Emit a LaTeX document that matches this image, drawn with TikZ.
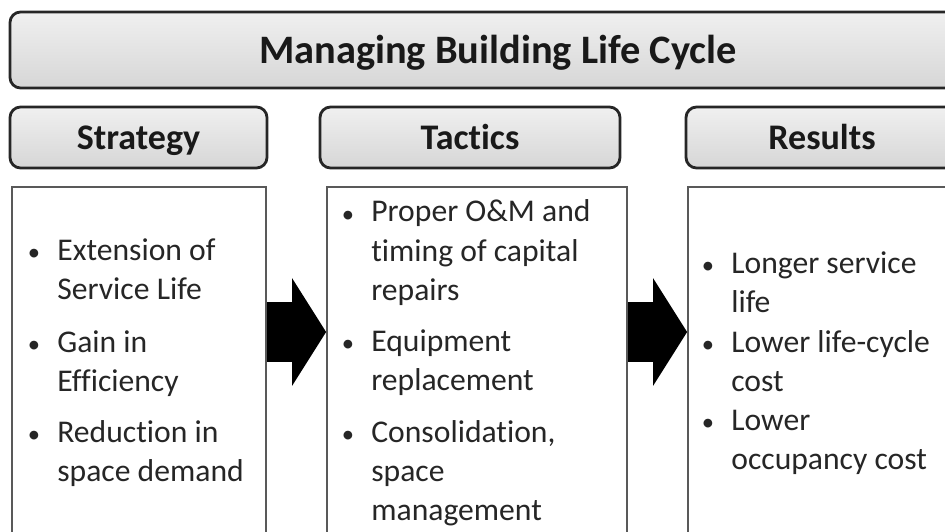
\documentclass[tikz,border=0pt]{standalone}
\usepackage{fontspec}
\setmainfont[Ligatures=NoCommon]{Carlito}
\usetikzlibrary{fit,arrows.meta}

\begin{document}
\begin{tikzpicture}[x=0.02cm, y=-0.02cm,
    banner/.style={draw=black!85, line width=1.6pt, rounded corners=6pt,
        top color=gray!12, bottom color=gray!32, inner sep=0pt},
    head/.style={text=black!90, inner sep=0pt, text height=13.2pt, text depth=0pt,
        font=\bfseries\fontsize{20.5}{25}\selectfont},
    panel/.style={draw=black!65, line width=1pt, fill=white, inner sep=0pt},
    item/.style={anchor=base west, align=left, inner sep=0pt, text=black!85,
        font=\fontsize{18}{22.2}\selectfont},
    dot/.style={anchor=base, inner sep=0pt, text=black!85,
        font=\fontsize{14}{16}\selectfont},
    bigarrow/.style={line width=1.2cm, black, -{Triangle[length=0.68cm, width=2.12cm]}}]

    \useasboundingbox (0,0) rectangle (945,531);
    \clip (0,0) rectangle (945,531);

    % 見出し
    \node[banner, fit={(10,12) (986,88)},
        label={[head, text height=14.8pt, font=\bfseries\fontsize{23}{28}\selectfont]center:Managing Building Life Cycle}] (title) {};
    \node[banner, fit={(10,107) (267,168)}, label={[head]center:Strategy}] (strat) {};
    \node[banner, fit={(320,107) (620,168)}, label={[head]center:Tactics}] (tact) {};
    \node[banner, fit={(686,107) (958,168)}, label={[head]center:Results}] (res) {};

    % 枠
    \node[panel, fit={(12,187) (266,560)}] (stratbox) {};
    \node[panel, fit={(327,187) (627,560)}] (tactbox) {};
    \node[panel, fit={(688,187) (990,560)}] (resbox) {};

    % 矢印
    \coordinate (mid) at (0,332);
    \draw[bigarrow] (stratbox.east |- mid) -- (tactbox.west |- mid);
    \draw[bigarrow] (tactbox.east |- mid) -- (resbox.west |- mid);

    % 箇条書き（1行目のベースラインと行数）
    \foreach \nm/\px/\py/\nl/\txt in {
        s1/57/260/2/{Extension of\\Service Life},
        s2/57/352/2/{Gain in\\Efficiency},
        s3/57/442/2/{Reduction in\\space demand},
        t1/371/222/3/{Proper O\&M and\\timing of capital\\repairs},
        t2/371/351/2/{Equipment\\replacement},
        t3/371/442/3/{Consolidation,\\space\\management},
        r1/731/273/2/{Longer service\\life},
        r2/731/352/2/{Lower life-cycle\\cost},
        r3/731/430/2/{Lower\\occupancy cost}} {
        \node[item] (\nm) at (\px,{\py+(\nl-1)*39}) {\txt};
        \node[dot] (\nm-dot) at ({\px-23},\py) {\textbullet};
    }

\end{tikzpicture}
\end{document}
